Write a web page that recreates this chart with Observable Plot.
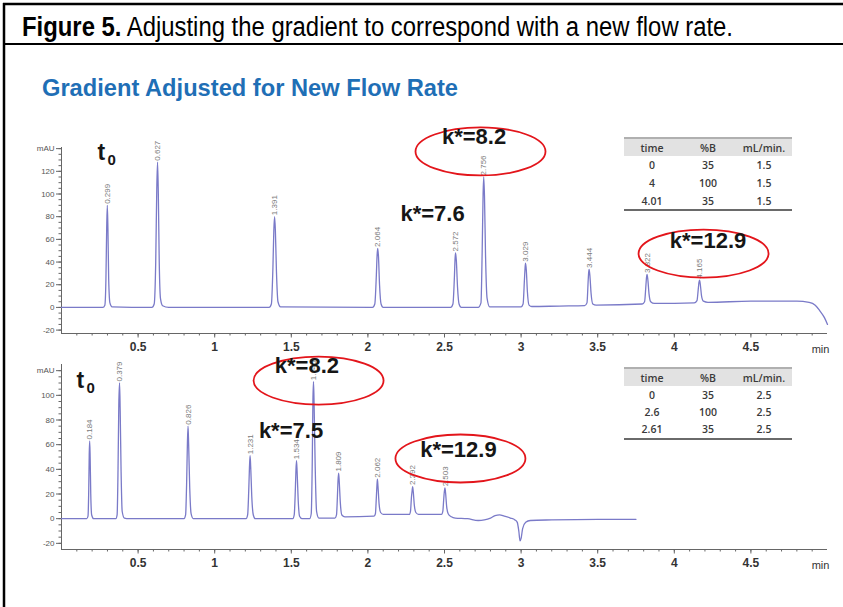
<!DOCTYPE html>
<html>
<head>
<meta charset="utf-8">
<script src="https://cdn.jsdelivr.net/npm/d3@7"></script>
<script src="https://cdn.jsdelivr.net/npm/@observablehq/plot@0.6"></script>
<style>
  html, body { margin: 0; padding: 0; background: #fff; }
  body { width: 843px; height: 607px; overflow: hidden; position: relative; font-family: "Liberation Sans", Arial, sans-serif; }
  #frame { position: absolute; left: 0; top: 0; }
  .chart { position: absolute; left: 0; }
  .squeeze { position: absolute; white-space: nowrap; transform-origin: 0 0; line-height: 1; }
  #header { left: 22px; top: 14px; font-size: 27px; color: #000; }
  #title { left: 42px; top: 77px; font-size: 23px; font-weight: bold; color: #1f6fb6; }
  table.grad { position: absolute; left: 624px; width: 168px; border-collapse: collapse; table-layout: fixed;
    font-family: "Open Sans", sans-serif; font-weight: 600; font-size: 10.5px; color: #3a3a3a; }
  table.grad th, table.grad td { text-align: center; padding: 0; font-weight: 600; }
  table.grad thead tr { background: #e2e2e2; border-top: 2px solid #b0b0b0; }
  table.grad tbody tr:last-child { border-bottom: 2px solid #6a6a6a; }
</style>
</head>
<body>
<div id="root"></div>
<script>
// ---------------- data ----------------
const figureLabel = "Figure 5.";
const figureCaption = "Adjusting the gradient to correspond with a new flow rate.";
const chartTitle = "Gradient Adjusted for New Flow Rate";

const xMajor = [0.5, 1, 1.5, 2, 2.5, 3, 3.5, 4, 4.5];
const xUnit = "min";

const topYTicks = [-20, 0, 20, 40, 60, 80, 100, 120, 140];
const topYLabels = ["-20", "0", "20", "40", "60", "80", "100", "120", "mAU"];
const botYTicks = [-20, 0, 20, 40, 60, 80, 100, 120];
const botYLabels = ["-20", "0", "20", "40", "60", "80", "100", "mAU"];

// peaks (retention time, height in mAU)
const topPeakTimes = [0.299, 0.627, 1.391, 2.064, 2.572, 2.756, 3.029, 3.444, 3.822, 4.165];
const topPeakHeights = [90, 128, 80, 52, 48, 115, 39, 33.5, 29, 24];
const botPeakTimes = [0.184, 0.379, 0.826, 1.231, 1.534, 1.645, 1.809, 2.062, 2.292, 2.503];
const botPeakHeights = [63, 110, 75, 51, 47, 111, 37, 32, 26, 25];

// detector traces [time (min), signal (mAU)]
const topTrace = [
  [0, 0],
  [0.270, 0], [0.283, 2], [0.290, 25], [0.295, 70], [0.299, 90], [0.303, 70], [0.308, 25], [0.316, 4], [0.330, 0.5],
  [0.590, 0], [0.605, 3], [0.615, 40], [0.622, 105], [0.627, 128], [0.632, 100], [0.638, 40], [0.646, 8], [0.660, 1.5], [0.700, 0],
  [1.355, 0], [1.370, 3], [1.380, 35], [1.386, 68], [1.391, 80], [1.396, 68], [1.403, 32], [1.413, 5], [1.430, 0.5],
  [2.030, 0], [2.045, 3], [2.055, 28], [2.060, 46], [2.064, 52], [2.069, 45], [2.076, 20], [2.086, 3], [2.100, 0],
  [2.540, 0], [2.555, 3], [2.565, 28], [2.569, 43], [2.572, 48], [2.577, 42], [2.585, 18], [2.595, 3], [2.610, 0],
  [2.720, 0], [2.738, 4], [2.746, 50], [2.752, 100], [2.756, 115], [2.761, 98], [2.768, 45], [2.778, 8], [2.795, 0.5],
  [3.000, 0.5], [3.013, 3], [3.022, 25], [3.026, 35], [3.029, 39], [3.034, 33], [3.041, 14], [3.052, 2], [3.070, 0.8],
  [3.250, 1.2], [3.415, 1.5], [3.430, 4], [3.438, 24], [3.441, 31], [3.444, 33.5], [3.449, 28], [3.457, 12], [3.468, 3], [3.490, 2],
  [3.790, 3], [3.806, 5], [3.815, 20], [3.819, 27], [3.822, 29], [3.827, 25], [3.835, 12], [3.846, 5], [3.870, 3.5],
  [4.130, 4], [4.148, 6], [4.157, 17], [4.161, 22], [4.165, 24], [4.170, 20], [4.178, 10], [4.190, 5.5], [4.220, 4.5],
  [4.500, 5.5], [4.800, 5.5], [4.880, 4.5], [4.920, 2], [4.950, -3], [4.980, -9], [5.000, -15]
];
const botTrace = [
  [0, 0],
  [0.165, 0], [0.173, 2], [0.178, 25], [0.181, 52], [0.184, 63], [0.187, 50], [0.191, 20], [0.197, 3], [0.210, 0],
  [0.355, 0], [0.363, 3], [0.369, 40], [0.374, 92], [0.379, 110], [0.383, 88], [0.389, 38], [0.396, 6], [0.410, 0.5], [0.440, 0],
  [0.800, 0], [0.810, 3], [0.817, 30], [0.822, 62], [0.826, 75], [0.830, 60], [0.837, 25], [0.846, 4], [0.860, 0],
  [1.205, 0], [1.215, 3], [1.222, 22], [1.227, 42], [1.231, 51], [1.235, 42], [1.242, 18], [1.252, 3], [1.265, 0],
  [1.510, 0], [1.519, 3], [1.526, 22], [1.530, 38], [1.534, 47], [1.538, 38], [1.545, 15], [1.554, 2], [1.570, 0],
  [1.620, 0], [1.630, 4], [1.637, 48], [1.641, 95], [1.645, 111], [1.649, 92], [1.656, 42], [1.665, 6], [1.680, 0.5],
  [1.785, 0.5], [1.795, 3], [1.801, 18], [1.805, 31], [1.809, 37], [1.813, 30], [1.820, 13], [1.830, 3], [1.850, 1.5],
  [2.040, 2], [2.049, 4], [2.055, 17], [2.059, 27], [2.062, 32], [2.066, 26], [2.073, 12], [2.083, 5], [2.100, 3.5],
  [2.270, 3.5], [2.278, 6], [2.284, 17], [2.289, 23], [2.292, 26], [2.296, 22], [2.303, 11], [2.313, 5], [2.330, 3.5],
  [2.480, 3.5], [2.489, 6], [2.495, 16], [2.499, 22], [2.503, 25], [2.507, 21], [2.514, 10], [2.524, 4], [2.545, 1.5], [2.570, 0.5],
  [2.650, 0], [2.720, -1.5], [2.760, -1], [2.800, 0.5], [2.830, 2.5], [2.860, 3], [2.890, 2], [2.930, 0.5], [2.960, -1],
  [2.975, -3], [2.985, -10], [2.993, -18], [3.000, -16], [3.010, -8], [3.030, -3], [3.060, -1.5], [3.200, -1], [3.500, -0.5], [3.750, -0.5]
];

// annotations, in chart coordinates (time, mAU)
const topKLabels = [
  {t: 2.693, v: 150.7, text: "k*=8.2"},
  {t: 2.422, v: 82.8, text: "k*=7.6"},
  {t: 4.220, v: 59, text: "k*=12.9"}
];
const topEllipses = [{t: 2.735, v: 137.5}, {t: 4.191, v: 47.5}];
const topT0 = {t: 0.235, v: 136.6, sub: {t: 0.30, v: 129.5}};

const botKLabels = [
  {t: 1.602, v: 123.5, text: "k*=8.2"},
  {t: 1.498, v: 71.5, text: "k*=7.5"},
  {t: 2.591, v: 56.1, text: "k*=12.9"}
];
const botEllipses = [{t: 1.678, v: 112}, {t: 2.604, v: 48.8}];
const botT0 = {t: 0.098, v: 112, sub: {t: 0.163, v: 105.5}};

// gradient tables
const tableHead = ["time", "%B", "mL/min."];
const topTableRows = [["0", "35", "1.5"], ["4", "100", "1.5"], ["4.01", "35", "1.5"]];
const botTableRows = [["0", "35", "2.5"], ["2.6", "100", "2.5"], ["2.61", "35", "2.5"]];

// ---------------- drawing ----------------
const root = document.getElementById("root");
const sans = "Liberation Sans, Arial, sans-serif";

// frame lines
const frame = d3.select(root).append("svg").attr("id", "frame")
  .attr("width", 843).attr("height", 607);
frame.append("line").attr("x1", 3).attr("y1", 4).attr("x2", 843).attr("y2", 4).attr("stroke", "#000").attr("stroke-width", 2.5);
frame.append("line").attr("x1", 4).attr("y1", 3).attr("x2", 4).attr("y2", 607).attr("stroke", "#000").attr("stroke-width", 2.5);
frame.append("line").attr("x1", 3).attr("y1", 44).attr("x2", 843).attr("y2", 44).attr("stroke", "#000").attr("stroke-width", 2);

// header and title as condensed HTML text
function squeezed(id, targetWidth, build) {
  const div = d3.select(root).append("div").attr("id", id).attr("class", "squeeze");
  build(div);
  const w = div.node().getBoundingClientRect().width;
  div.style("transform", `scaleX(${targetWidth / w})`);
}
squeezed("header", 711, div => {
  div.append("b").text(figureLabel);
  div.append("span").text(" " + figureCaption);
});
squeezed("title", 416, div => div.text(chartTitle));

function ellipseSymbol(rx, ry) {
  const k = 0.5523;
  return {
    draw(ctx) {
      ctx.moveTo(rx, 0);
      ctx.bezierCurveTo(rx, ry * k, rx * k, ry, 0, ry);
      ctx.bezierCurveTo(-rx * k, ry, -rx, ry * k, -rx, 0);
      ctx.bezierCurveTo(-rx, -ry * k, -rx * k, -ry, 0, -ry);
      ctx.bezierCurveTo(rx * k, -ry, rx, -ry * k, rx, 0);
      ctx.closePath();
    }
  };
}

const fmt3 = d3.format(".3f");
const xMinor = d3.range(1, 50).map(i => i / 10);

function chromatogram(o) {
  const y0 = o.yDomain[0];
  const yMinor = d3.range(-20, o.yDomain[1], 5);
  const axisColor = "#666";
  const svg = Plot.plot({
    width: 843, height: o.height,
    marginLeft: 61, marginRight: 16, marginTop: o.marginTop, marginBottom: o.marginBottom,
    x: {domain: [0, 5], axis: null},
    y: {domain: o.yDomain, axis: null},
    style: {background: "transparent", overflow: "visible", fontFamily: sans},
    marks: [
      // axes
      Plot.ruleY([y0], {stroke: axisColor, strokeWidth: 1}),
      Plot.ruleX([0], {stroke: axisColor, strokeWidth: 1}),
      Plot.ruleX(xMinor, {x: d => d, y1: () => y0, y2: () => y0, insetBottom: -2.5, stroke: axisColor}),
      Plot.ruleX(xMajor, {x: d => d, y1: () => y0, y2: () => y0, insetBottom: -4.5, stroke: axisColor}),
      Plot.text(xMajor, {x: d => d, y: () => y0, dy: 14, text: d => String(d), fontSize: 12, fontWeight: "bold", fill: "#333"}),
      Plot.text([xUnit], {x: () => 5, y: () => y0, dx: -7, dy: 16, text: d => d, fontSize: 11, fill: "#333"}),
      Plot.ruleY(yMinor, {y: d => d, x1: () => 0, x2: () => 0, insetLeft: -2.5, stroke: axisColor}),
      Plot.ruleY(o.yTicks, {y: d => d, x1: () => 0, x2: () => 0, insetLeft: -5, stroke: axisColor}),
      Plot.text(o.yTicks, {x: () => 0, y: d => d, dx: -7, textAnchor: "end", text: (d, i) => o.yLabels[i], fontSize: 8, fill: "#555"}),
      // trace
      Plot.line(o.trace, {x: d => d[0], y: d => d[1], stroke: "#7a7ac8", strokeWidth: 1.3, curve: "monotone-x"}),
      // peak labels
      Plot.text(o.peakT, {x: d => d, y: (d, i) => o.peakH[i], text: d => fmt3(d), rotate: -90, textAnchor: "start", dy: -1.5, fontSize: 8, fill: "#7a7a7a"}),
      // ellipses
      Plot.dot(o.ellipses, {x: "t", y: "v", symbol: ellipseSymbol(65, 24), fill: "none", stroke: "#e3151b", strokeWidth: 1.8}),
      // k* labels
      Plot.text(o.kLabels, {x: "t", y: "v", text: "text", fontSize: 22, fontWeight: "bold", fill: "#161616"}),
      // t0
      Plot.text([o.t0], {x: "t", y: "v", text: () => "t", textAnchor: "start", fontSize: 23, fontWeight: "bold", fill: "#161616"}),
      Plot.text([o.t0.sub], {x: "t", y: "v", text: () => "0", textAnchor: "start", fontSize: 15, fontWeight: "bold", fill: "#161616"})
    ]
  });
  svg.classList.add("chart");
  svg.style.top = o.top + "px";
  root.appendChild(svg);
}

chromatogram({
  top: 110, height: 250, marginTop: 37, marginBottom: 27,
  yDomain: [-23, 141], yTicks: topYTicks, yLabels: topYLabels,
  trace: topTrace, peakT: topPeakTimes, peakH: topPeakHeights,
  kLabels: topKLabels, ellipses: topEllipses, t0: topT0
});
chromatogram({
  top: 335, height: 255, marginTop: 29, marginBottom: 41,
  yDomain: [-25, 125], yTicks: botYTicks, yLabels: botYLabels,
  trace: botTrace, peakT: botPeakTimes, peakH: botPeakHeights,
  kLabels: botKLabels, ellipses: botEllipses, t0: botT0
});

function gradTable(rows, top, headH, rowH) {
  const t = d3.select(root).append("table").attr("class", "grad").style("top", top + "px");
  t.append("thead").append("tr").style("height", headH + "px")
    .selectAll("th").data(tableHead).join("th").text(d => d);
  t.append("tbody").selectAll("tr").data(rows).join("tr").style("height", rowH + "px")
    .selectAll("td").data(d => d).join("td").text(d => d);
}
gradTable(topTableRows, 137, 18, 18);
gradTable(botTableRows, 367, 18, 17.5);
</script>
</body>
</html>
